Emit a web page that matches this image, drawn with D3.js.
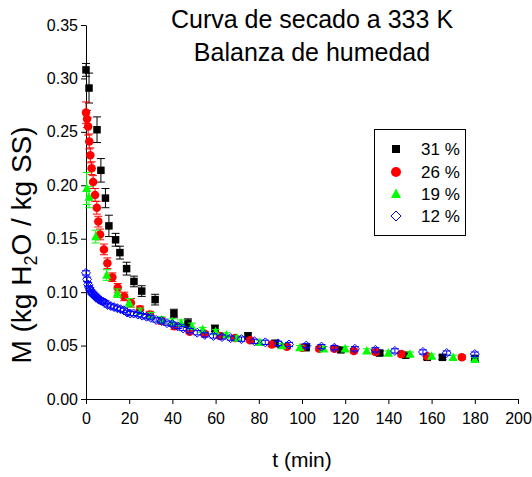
<!DOCTYPE html>
<html>
<head>
<meta charset="utf-8">
<script src="https://cdn.jsdelivr.net/npm/d3@7/dist/d3.min.js"></script>
<style>
  html, body { margin: 0; padding: 0; background: #fff; }
  svg { display: block; font-family: "Liberation Sans", Arial, sans-serif; }
</style>
</head>
<body>
<svg id="chart" width="532" height="477"></svg>
<script>
// Drying curve data: moisture M (kg H2O / kg dry solid) vs time t (min)
const t31 = [0, 1.4, 5.1, 6.9, 9, 10.6, 13.7, 15.7, 18.8, 22.2, 25.8, 32, 40.7, 47.2, 59.7, 75, 87.5, 101.9, 118, 136, 148, 158, 165, 180];
const m31 = [0.308, 0.291, 0.252, 0.214, 0.188, 0.162, 0.149, 0.137, 0.122, 0.110, 0.101, 0.093, 0.080, 0.071, 0.066, 0.059, 0.052, 0.048, 0.046, 0.043, 0.041, 0.039, 0.039, 0.038];
const e31 = [0.006, 0.014, 0.012, 0.011, 0.009, 0.010, 0.006, 0.006, 0.006, 0.005, 0.005, 0.005, 0.004, 0.004, 0.003, 0.003, 0.003, 0.002, 0.002, 0.002, 0.002, 0.002, 0.002, 0.002];

const t26 = [0, 0.5, 1, 1.5, 2, 2.6, 3.3, 4.2, 5, 5.7, 6.5, 8.3, 9.9, 12.2, 14.7, 17.7, 20.8, 25, 29.6, 35, 41, 48, 55, 62, 69, 76, 86, 93, 100, 108, 115, 124, 134, 146, 158, 174];
const m26 = [0.268, 0.262, 0.255, 0.241, 0.228, 0.216, 0.203, 0.191, 0.179, 0.166, 0.154, 0.140, 0.127, 0.114, 0.104, 0.096, 0.090, 0.084, 0.079, 0.073, 0.068, 0.063, 0.061, 0.059, 0.057, 0.055, 0.051, 0.049, 0.048, 0.047, 0.047, 0.045, 0.044, 0.042, 0.040, 0.039];
const e26 = [0.010, 0.008, 0.008, 0.007, 0.007, 0.006, 0.006, 0.006, 0.006, 0.005, 0.005, 0.005, 0.005, 0.004, 0.004, 0.004, 0.004, 0.003, 0.003, 0.003, 0.003, 0.002, 0.002, 0.002, 0.002, 0.002, 0.002, 0.002, 0.002, 0.002, 0.002, 0.002, 0.002, 0.002, 0.002, 0.002];

const t19 = [0.3, 1.4, 4.5, 9.6, 14.5, 20, 25, 30, 35, 40, 44, 49, 54, 60, 65, 70, 80.5, 90.6, 99, 110, 120, 130, 140, 150, 160, 170, 180];
const m19 = [0.197, 0.189, 0.152, 0.116, 0.099, 0.090, 0.082, 0.078, 0.074, 0.072, 0.071, 0.068, 0.065, 0.063, 0.060, 0.057, 0.053, 0.050, 0.048, 0.047, 0.047, 0.045, 0.043, 0.042, 0.040, 0.039, 0.037];
const e19 = [0.015, 0.010, 0.006, 0.005, 0.004, 0.004, 0.003, 0.003, 0.003, 0.003, 0.003, 0.003, 0.002, 0.002, 0.002, 0.002, 0.002, 0.002, 0.002, 0.002, 0.002, 0.002, 0.002, 0.002, 0.002, 0.002, 0.002];

const t12 = [0, 0.5, 1, 1.5, 2, 2.5, 3, 3.5, 4, 4.5, 5, 5.5, 6, 7, 8, 9, 10, 11.5, 13, 14.5, 16, 17.5, 19, 20.5, 22, 24, 26, 28, 30, 32.5, 35, 37.5, 40, 42.5, 45, 48, 51.5, 55, 59, 63, 67, 72, 78, 83, 89, 94, 102, 109, 115, 124.5, 134, 143, 156, 167, 180];
const m12 = [0.118, 0.112, 0.107, 0.104, 0.102, 0.100, 0.099, 0.098, 0.097, 0.096, 0.095, 0.094, 0.093, 0.092, 0.091, 0.090, 0.088, 0.087, 0.086, 0.085, 0.084, 0.083, 0.081, 0.080, 0.080, 0.079, 0.078, 0.077, 0.076, 0.074, 0.073, 0.071, 0.070, 0.068, 0.066, 0.064, 0.062, 0.060, 0.059, 0.058, 0.057, 0.056, 0.054, 0.053, 0.052, 0.051, 0.050, 0.049, 0.048, 0.047, 0.046, 0.045, 0.044, 0.043, 0.042];
const e12 = m12.map(() => 0.002);

const seriesNames = ["31 %", "26 %", "19 %", "12 %"];
const xTicks = [0, 20, 40, 60, 80, 100, 120, 140, 160, 180, 200];
const yTicks = [0, 0.05, 0.10, 0.15, 0.20, 0.25, 0.30, 0.35];

const svg = d3.select("#chart");
const x = d3.scaleLinear().domain([0, 200]).range([86, 518]);
const y = d3.scaleLinear().domain([0, 0.35]).range([399, 25]);

const series = [
  { name: seriesNames[0], t: t31, m: m31, e: e31, shape: "square", color: "#000000" },
  { name: seriesNames[1], t: t26, m: m26, e: e26, shape: "circle", color: "#ff0000" },
  { name: seriesNames[2], t: t19, m: m19, e: e19, shape: "triangle", color: "#00ff00" },
  { name: seriesNames[3], t: t12, m: m12, e: e12, shape: "diamond", color: "#0000ff" }
];

// symbol path generators
function symbolPath(shape, s) {
  const h = s / 2;
  if (shape === "square") return `M${-h},${-h}H${h}V${h}H${-h}Z`;
  if (shape === "triangle") return `M0,${-h * 1.1}L${h},${h * 0.8}L${-h},${h * 0.8}Z`;
  if (shape === "diamond") return `M0,${-h}L${h},0L0,${h}L${-h},0Z`;
  return d3.symbol(d3.symbolCircle, Math.PI * h * h)();
}

// axes
const yMinor = d3.range(0, 0.3501, 0.025);
const xMinor = d3.range(0, 201, 10);

const gy = svg.append("g").attr("transform", `translate(${x(0)},0)`);
gy.call(d3.axisLeft(y).tickValues(yMinor).tickSize(3).tickFormat(""));
gy.call(d3.axisLeft(y).tickValues(yTicks).tickSize(5).tickSizeOuter(0).tickPadding(3).tickFormat(d3.format(".2f")));
const gx = svg.append("g").attr("transform", `translate(0,${y(0)})`);
gx.call(d3.axisBottom(x).tickValues(xMinor).tickSize(3).tickFormat(""));
gx.call(d3.axisBottom(x).tickValues(xTicks).tickSize(5).tickSizeOuter(0).tickPadding(9).tickFormat(d3.format("d")));

svg.selectAll(".domain").attr("stroke", "#000").attr("stroke-width", 1);
svg.selectAll(".tick line").attr("stroke", "#000");
svg.selectAll(".tick text").attr("font-size", 16).attr("fill", "#000")
  .attr("font-family", "Liberation Sans, Arial, sans-serif");

// data: error bars then markers
series.forEach((s, i) => {
  const pts = s.t.map((t, k) => ({ t, m: s.m[k], e: s.e[k] }));
  const g = svg.append("g");
  const cap = 4;
  const eb = g.append("g").attr("stroke", s.color).attr("stroke-width", 1).attr("fill", "none");
  pts.forEach(p => {
    const cx = x(p.t), y1 = y(p.m + p.e), y2 = y(p.m - p.e);
    eb.append("path").attr("d", `M${cx},${y1}V${y2}M${cx - cap},${y1}H${cx + cap}M${cx - cap},${y2}H${cx + cap}`);
  });
  const size = s.shape === "diamond" ? 9 : (s.shape === "triangle" ? 9 : (s.shape === "circle" ? 8.5 : 7.5));
  g.selectAll("path.pt").data(pts).join("path")
    .attr("class", "pt")
    .attr("transform", p => `translate(${x(p.t)},${y(p.m)})`)
    .attr("d", symbolPath(s.shape, size))
    .attr("fill", s.shape === "diamond" ? "none" : s.color)
    .attr("stroke", s.shape === "diamond" ? s.color : "none")
    .attr("stroke-width", 1);
});

// legend
const lg = svg.append("g");
lg.append("rect").attr("x", 374.5).attr("y", 129.5).attr("width", 91).attr("height", 106)
  .attr("fill", "#fff").attr("stroke", "#000").attr("stroke-width", 1);
const rowsY = [149, 172, 194, 216];
series.forEach((s, i) => {
  lg.append("path").attr("transform", `translate(396,${rowsY[i]})`)
    .attr("d", symbolPath(s.shape, s.shape === "square" ? 8 : 10))
    .attr("fill", s.shape === "diamond" ? "none" : s.color)
    .attr("stroke", s.shape === "diamond" ? s.color : "none");
  lg.append("text").attr("x", 421).attr("y", rowsY[i] + 6).attr("font-size", 17).text(s.name);
});

// titles
svg.append("text").attr("x", 312).attr("y", 28).attr("text-anchor", "middle").attr("font-size", 25).text("Curva de secado a 333 K");
svg.append("text").attr("x", 312).attr("y", 61).attr("text-anchor", "middle").attr("font-size", 25).text("Balanza de humedad");

svg.append("text").attr("x", 302).attr("y", 467).attr("text-anchor", "middle").attr("font-size", 21).text("t (min)");

const yl = svg.append("text").attr("transform", "translate(31,245) rotate(-90)").attr("text-anchor", "middle").attr("font-size", 28);
yl.append("tspan").text("M (kg H");
yl.append("tspan").attr("font-size", 18).attr("dy", 6).text("2");
yl.append("tspan").attr("dy", -6).text("O / kg SS)");
</script>
</body>
</html>
